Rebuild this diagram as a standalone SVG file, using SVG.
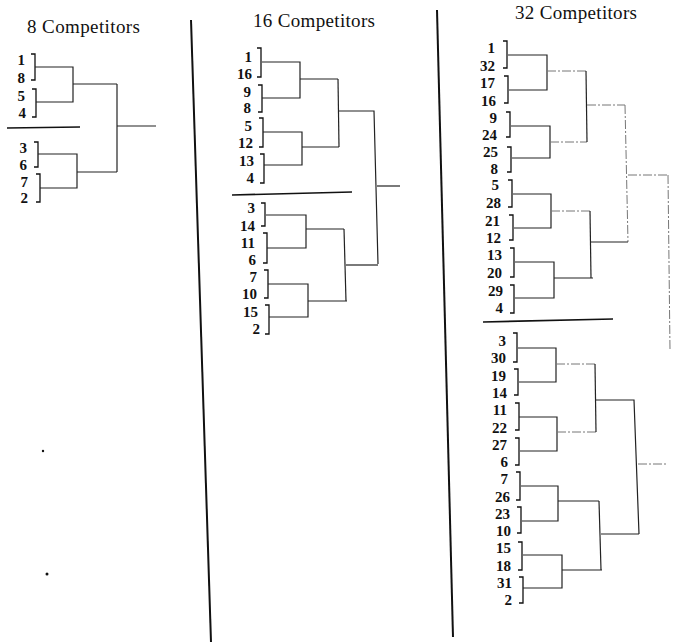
<svg xmlns="http://www.w3.org/2000/svg" width="673" height="642" viewBox="0 0 673 642">
<style>
.t{font-family:"Liberation Serif",serif;font-size:19px;fill:#111}
.n{font-family:"Liberation Serif",serif;font-size:15px;font-weight:bold;text-anchor:end;fill:#111}
.b{fill:none;stroke:#111;stroke-width:1.3}
.l{fill:none;stroke:#222;stroke-width:1.2}
.f{fill:none;stroke:#777;stroke-width:1;stroke-dasharray:9 2 2 2}
.d{fill:none;stroke:#111;stroke-width:2}
.s{fill:none;stroke:#111;stroke-width:1.6}
</style>
<rect width="673" height="642" fill="#fff"/>

<!-- titles -->
<text class="t" x="27" y="33" textLength="113">8 Competitors</text>
<text class="t" x="253" y="27" textLength="122">16 Competitors</text>
<text class="t" x="515" y="19" textLength="122">32 Competitors</text>

<!-- dividers and separators -->
<g id="dividers">
<path class="d" d="M191,20 L211,642"/>
<path class="d" d="M437,10 L453,637"/>
<path class="s" d="M7,128 L80,127"/>
<path class="s" d="M232,195 L352,192"/>
<path class="s" d="M483,322 L613,319"/>
<circle cx="43" cy="451" r="1.2" fill="#111"/>
<circle cx="47" cy="574" r="1.5" fill="#111"/>
</g>

<!-- 8 competitors -->
<g id="e8-a"><text class="n" x="25" y="65">1</text><text class="n" x="25" y="83">8</text><path class="b" d="M31,54 H35 V80 H31"/></g>
<g id="e8-b"><text class="n" x="25" y="101">5</text><text class="n" x="26" y="118">4</text><path class="b" d="M32,89 H36 V117 H32"/></g>
<g id="e8-c"><text class="n" x="27" y="153">3</text><text class="n" x="27" y="170">6</text><path class="b" d="M34,142 H38 V167 H34"/></g>
<g id="e8-d"><text class="n" x="28" y="187">7</text><text class="n" x="28" y="203">2</text><path class="b" d="M36,174 H40 V202 H36"/></g>

<!-- 16 competitors -->
<g id="s16-a"><text class="n" x="252" y="62">1</text><text class="n" x="252" y="79">16</text><path class="b" d="M257,48 H261 V77 H257"/></g>
<g id="s16-b"><text class="n" x="251" y="97">9</text><text class="n" x="251" y="113">8</text><path class="b" d="M258,85 H262 V112 H258"/></g>
<g id="s16-c"><text class="n" x="252" y="131">5</text><text class="n" x="253" y="148">12</text><path class="b" d="M259,118 H263 V147 H259"/></g>
<g id="s16-d"><text class="n" x="254" y="166">13</text><text class="n" x="254" y="183">4</text><path class="b" d="M260,154 H264 V183 H260"/></g>
<g id="s16-e"><text class="n" x="255" y="213">3</text><text class="n" x="255" y="231">14</text><path class="b" d="M261,203 H265 V226 H261"/></g>
<g id="s16-f"><text class="n" x="255" y="248">11</text><text class="n" x="256" y="265">6</text><path class="b" d="M263,233 H267 V263 H263"/></g>
<g id="s16-g"><text class="n" x="257" y="282">7</text><text class="n" x="257" y="299">10</text><path class="b" d="M264,270 H268 V298 H264"/></g>
<g id="s16-h"><text class="n" x="258" y="317">15</text><text class="n" x="260" y="334">2</text><path class="b" d="M265,305 H269 V334 H265"/></g>

<!-- 32 competitors upper -->
<g id="t32-a"><text class="n" x="495" y="53">1</text><text class="n" x="495" y="71">32</text><path class="b" d="M503,41 H507 V68 H503"/></g>
<g id="t32-b"><text class="n" x="495" y="88">17</text><text class="n" x="496" y="106">16</text><path class="b" d="M504,76 H508 V103 H504"/></g>
<g id="t32-c"><text class="n" x="497" y="123">9</text><text class="n" x="497" y="140">24</text><path class="b" d="M506,112 H510 V137 H506"/></g>
<g id="t32-d"><text class="n" x="498" y="157">25</text><text class="n" x="498" y="174">8</text><path class="b" d="M507,147 H511 V172 H507"/></g>
<g id="t32-e"><text class="n" x="499" y="190">5</text><text class="n" x="501" y="208">28</text><path class="b" d="M508,180 H512 V207 H508"/></g>
<g id="t32-f"><text class="n" x="500" y="226">21</text><text class="n" x="501" y="243">12</text><path class="b" d="M509,215 H513 V240 H509"/></g>
<g id="t32-g"><text class="n" x="502" y="260">13</text><text class="n" x="502" y="278">20</text><path class="b" d="M510,248 H514 V277 H510"/></g>
<g id="t32-h"><text class="n" x="503" y="296">29</text><text class="n" x="503" y="313">4</text><path class="b" d="M510,285 H514 V313 H510"/></g>

<!-- 32 competitors lower -->
<g id="b32-a"><text class="n" x="506" y="346">3</text><text class="n" x="506" y="363">30</text><path class="b" d="M513,333 H517 V362 H513"/></g>
<g id="b32-b"><text class="n" x="506" y="381">19</text><text class="n" x="507" y="398">14</text><path class="b" d="M514,369 H518 V395 H514"/></g>
<g id="b32-c"><text class="n" x="507" y="415">11</text><text class="n" x="507" y="433">22</text><path class="b" d="M515,403 H519 V430 H515"/></g>
<g id="b32-d"><text class="n" x="507" y="450">27</text><text class="n" x="508" y="467">6</text><path class="b" d="M515,438 H519 V465 H515"/></g>
<g id="b32-e"><text class="n" x="508" y="484">7</text><text class="n" x="510" y="502">26</text><path class="b" d="M516,472 H520 V500 H516"/></g>
<g id="b32-f"><text class="n" x="510" y="519">23</text><text class="n" x="511" y="536">10</text><path class="b" d="M517,507 H521 V533 H517"/></g>
<g id="b32-g"><text class="n" x="511" y="553">15</text><text class="n" x="511" y="571">18</text><path class="b" d="M518,542 H522 V570 H518"/></g>
<g id="b32-h"><text class="n" x="512" y="588">31</text><text class="n" x="512" y="605">2</text><path class="b" d="M519,577 H523 V603 H519"/></g>

<!-- connectors -->
<g id="connectors">
<!-- 8 -->
<path class="l" d="M35,67 H73 V102 H36"/>
<path class="l" d="M73,84 H117"/>
<path class="l" d="M38,154 H77 V188 H40"/>
<path class="l" d="M77,172 H117"/>
<path class="l" d="M117,84 V172"/>
<path class="l" d="M117,126 H156"/>
<!-- 16 -->
<path class="l" d="M262,62 H300 V98 H262"/>
<path class="l" d="M300,79 H338"/>
<path class="l" d="M263,132 H302 V165 H264"/>
<path class="l" d="M302,147 H339"/>
<path class="l" d="M338,79 L339,147"/>
<path class="l" d="M339,111 H374 L378,264"/>
<path class="l" d="M377,186 H400"/>
<path class="l" d="M266,215 H306 V248 H267"/>
<path class="l" d="M306,229 H344"/>
<path class="l" d="M268,284 H308 V317 H269"/>
<path class="l" d="M308,301 H347"/>
<path class="l" d="M344,229 L346,301"/>
<path class="l" d="M346,265 H378"/>
<!-- 32 upper -->
<path class="l" d="M508,55 H547 V90 H509"/>
<path class="f" d="M547,71 H586"/>
<path class="l" d="M511,126 H550 V158 H512"/>
<path class="f" d="M550,142 H587"/>
<path class="l" d="M586,71 L587,142"/>
<path class="f" d="M587,105 H625"/>
<path class="f" d="M625,105 L628,242"/>
<path class="l" d="M513,194 H551 V228 H514"/>
<path class="f" d="M551,211 H590"/>
<path class="l" d="M515,262 H554 V298 H515"/>
<path class="l" d="M554,278 H593"/>
<path class="l" d="M590,211 L591,278"/>
<path class="l" d="M591,242 H628"/>
<path class="f" d="M628,175 H668"/>
<path class="f" d="M668,175 L670,350"/>
<!-- 32 lower -->
<path class="l" d="M518,348 H556 V382 H519"/>
<path class="f" d="M556,364 H595"/>
<path class="l" d="M519,417 H557 V451 H520"/>
<path class="f" d="M557,432 H596"/>
<path class="l" d="M595,364 L596,432"/>
<path class="l" d="M596,400 H634 L639,534"/>
<path class="f" d="M638,464 H668"/>
<path class="l" d="M521,486 H558 V521 H522"/>
<path class="l" d="M558,501 H599"/>
<path class="l" d="M523,555 H562 V588 H523"/>
<path class="l" d="M562,570 H602"/>
<path class="l" d="M599,501 L601,570"/>
<path class="l" d="M601,534 H639"/>
</g>
</svg>
